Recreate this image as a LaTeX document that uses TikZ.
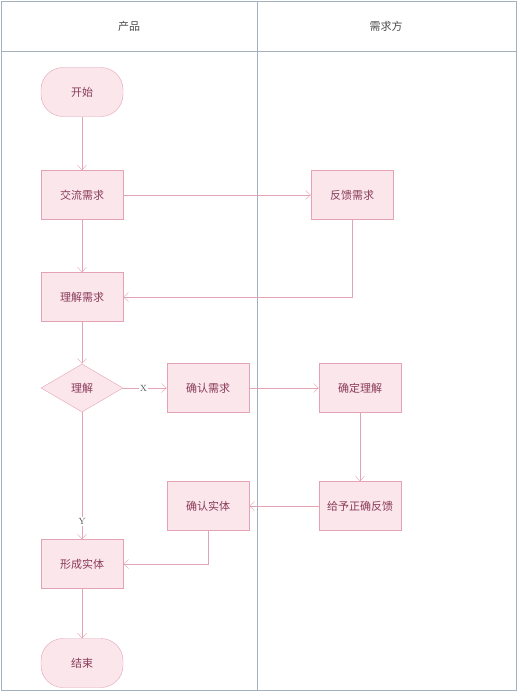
\documentclass[tikz,border=0pt]{standalone}
\usepackage{fontspec}
\newfontfamily\cjk{Noto Sans CJK SC}
\usetikzlibrary{shapes.geometric,arrows.meta}
\definecolor{boxfill}{HTML}{FBE6EC}
\definecolor{boxline}{HTML}{E3A3B5}
\definecolor{boxtext}{HTML}{8A3A58}
\definecolor{lane}{HTML}{A3B0BD}
\begin{document}
\begin{tikzpicture}[x=1pt,y=-1pt,
    stepbox/.style={draw=boxline,fill=boxfill,text=boxtext,minimum width=82pt,minimum height=49pt,inner sep=0pt,font=\cjk\fontsize{11}{13}\selectfont},
    termbox/.style={stepbox,rounded corners=22pt},
    choice/.style={stepbox,diamond,minimum height=48pt},
    flow/.style={draw=boxline,-{Straight Barb[length=5pt,width=9pt]}},
    lanehead/.style={text=black!70,font=\cjk\fontsize{11}{13}\selectfont},
    mark label/.style={fill=white,inner sep=1pt,text=black!70,font=\rmfamily\fontsize{9}{11}\selectfont}]
    \useasboundingbox (0,0) rectangle (518,693);
    \draw[lane,line width=0.8pt] (1,1) rectangle (516,690);
    \draw[lane,line width=0.8pt] (1,51) -- (516,51);
    \draw[lane,line width=0.8pt] (257,1) -- (257,690);
    \node[lanehead] (lane1) at (129,26) {产品};
    \node[lanehead] (lane2) at (386,26) {需求方};

    \node[termbox] (start) at (82,92) {开始};
    \node[stepbox] (talk) at (82,195) {交流需求};
    \node[stepbox] (feedback) at (352,195) {反馈需求};
    \node[stepbox] (grasp) at (82,297) {理解需求};
    \node[choice] (check) at (82,388) {理解};
    \node[stepbox] (confirm) at (208,388) {确认需求};
    \node[stepbox] (settle) at (360,388) {确定理解};
    \node[stepbox] (reply) at (360,506) {给予正确反馈};
    \node[stepbox] (accept) at (208,506) {确认实体};
    \node[stepbox] (build) at (82,564) {形成实体};
    \node[termbox] (stop) at (82,663) {结束};

    \draw[flow] (start) -- (talk);
    \draw[flow] (talk) -- (feedback);
    \draw[flow] (talk) -- (grasp);
    \draw[flow] (feedback.south) |- (grasp.east);
    \draw[flow] (grasp) -- (check);
    \draw[flow] (check) -- node[mark label,pos=0.47] {X} (confirm);
    \draw[flow] (confirm) -- (settle);
    \draw[flow] (settle) -- (reply);
    \draw[flow] (reply) -- (accept);
    \draw[flow] (check) -- node[mark label,pos=0.86] {Y} (build);
    \draw[flow] (accept.south) |- (build.east);
    \draw[flow] (build) -- (stop);
\end{tikzpicture}
\end{document}
